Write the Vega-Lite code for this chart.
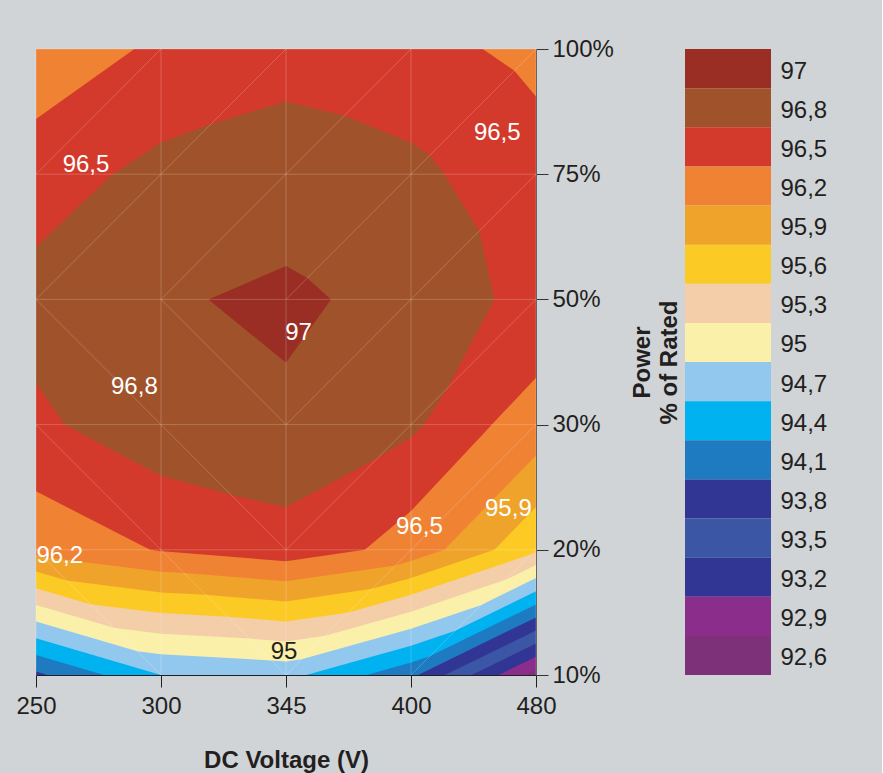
{
  "$schema": "https://vega.github.io/schema/vega-lite/v6.json",
  "background": "#d0d4d7",
  "padding": {"left": 15, "top": 37, "right": 55, "bottom": 5},
  "config": {"view": {"stroke": null}, "font": "Liberation Sans", "concat": {"spacing": 3}},
  "resolve": {"scale": {"color": "independent"}},
  "hconcat": [
    {
      "width": 500,
      "height": 626,
      "layer": [
        {
          "data": {"values": [
            {"lev": "92,6", "x": 0, "lo": 0, "hi": 5}, {"lev": "92,6", "x": 4, "lo": 0, "hi": 5},
            {"lev": "92,9", "x": 0, "lo": 0, "hi": 5}, {"lev": "92,9", "x": 3.914, "lo": 0, "hi": 5}, {"lev": "92,9", "x": 4, "lo": 0.042, "hi": 5},
            {"lev": "93,2", "x": 0, "lo": 0, "hi": 5}, {"lev": "93,2", "x": 3.7, "lo": 0, "hi": 5}, {"lev": "93,2", "x": 4, "lo": 0.146, "hi": 5},
            {"lev": "93,5", "x": 0, "lo": 0, "hi": 5}, {"lev": "93,5", "x": 3.486, "lo": 0, "hi": 5}, {"lev": "93,5", "x": 4, "lo": 0.251, "hi": 5},
            {"lev": "93,8", "x": 0, "lo": 0, "hi": 5}, {"lev": "93,8", "x": 3.271, "lo": 0, "hi": 5}, {"lev": "93,8", "x": 4, "lo": 0.355, "hi": 5},
            {"lev": "94,1", "x": 0, "lo": 0.027, "hi": 5}, {"lev": "94,1", "x": 0.091, "lo": 0, "hi": 5}, {"lev": "94,1", "x": 3.057, "lo": 0, "hi": 5}, {"lev": "94,1", "x": 4, "lo": 0.46, "hi": 5},
            {"lev": "94,4", "x": 0, "lo": 0.16, "hi": 5}, {"lev": "94,4", "x": 0.545, "lo": 0, "hi": 5}, {"lev": "94,4", "x": 2.645, "lo": 0, "hi": 5}, {"lev": "94,4", "x": 3, "lo": 0.099, "hi": 5}, {"lev": "94,4", "x": 3.15, "lo": 0.15, "hi": 5}, {"lev": "94,4", "x": 4, "lo": 0.564, "hi": 5},
            {"lev": "94,7", "x": 0, "lo": 0.293, "hi": 5}, {"lev": "94,7", "x": 1, "lo": 0, "hi": 5}, {"lev": "94,7", "x": 2.161, "lo": 0, "hi": 5}, {"lev": "94,7", "x": 3, "lo": 0.234, "hi": 5}, {"lev": "94,7", "x": 3.354, "lo": 0.354, "hi": 5}, {"lev": "94,7", "x": 4, "lo": 0.669, "hi": 5},
            {"lev": "95", "x": 0, "lo": 0.427, "hi": 5}, {"lev": "95", "x": 0.811, "lo": 0.189, "hi": 5}, {"lev": "95", "x": 1, "lo": 0.165, "hi": 5}, {"lev": "95", "x": 1.884, "lo": 0.116, "hi": 5}, {"lev": "95", "x": 2, "lo": 0.107, "hi": 5}, {"lev": "95", "x": 2.125, "lo": 0.125, "hi": 5}, {"lev": "95", "x": 3, "lo": 0.369, "hi": 5}, {"lev": "95", "x": 3.558, "lo": 0.558, "hi": 5}, {"lev": "95", "x": 4, "lo": 0.774, "hi": 5},
            {"lev": "95,3", "x": 0, "lo": 0.56, "hi": 5}, {"lev": "95,3", "x": 0.623, "lo": 0.377, "hi": 5}, {"lev": "95,3", "x": 1, "lo": 0.33, "hi": 5}, {"lev": "95,3", "x": 1.709, "lo": 0.291, "hi": 5}, {"lev": "95,3", "x": 2, "lo": 0.267, "hi": 5}, {"lev": "95,3", "x": 2.313, "lo": 0.313, "hi": 5}, {"lev": "95,3", "x": 3, "lo": 0.505, "hi": 5}, {"lev": "95,3", "x": 3.762, "lo": 0.762, "hi": 5}, {"lev": "95,3", "x": 4, "lo": 0.878, "hi": 5},
            {"lev": "95,6", "x": 0, "lo": 0.693, "hi": 5}, {"lev": "95,6", "x": 0.434, "lo": 0.566, "hi": 5}, {"lev": "95,6", "x": 1, "lo": 0.495, "hi": 5}, {"lev": "95,6", "x": 1.535, "lo": 0.465, "hi": 5}, {"lev": "95,6", "x": 2, "lo": 0.428, "hi": 5}, {"lev": "95,6", "x": 2.5, "lo": 0.5, "hi": 5}, {"lev": "95,6", "x": 3, "lo": 0.64, "hi": 5}, {"lev": "95,6", "x": 3.966, "lo": 0.966, "hi": 5}, {"lev": "95,6", "x": 4, "lo": 0.983, "hi": 5},
            {"lev": "95,9", "x": 0, "lo": 0.827, "hi": 5}, {"lev": "95,9", "x": 0.245, "lo": 0.755, "hi": 5}, {"lev": "95,9", "x": 1, "lo": 0.659, "hi": 5}, {"lev": "95,9", "x": 1.36, "lo": 0.64, "hi": 5}, {"lev": "95,9", "x": 2, "lo": 0.588, "hi": 5}, {"lev": "95,9", "x": 2.688, "lo": 0.688, "hi": 5}, {"lev": "95,9", "x": 3, "lo": 0.775, "hi": 5}, {"lev": "95,9", "x": 3.667, "lo": 1, "hi": 5}, {"lev": "95,9", "x": 4, "lo": 1.342, "hi": 5},
            {"lev": "96,2", "x": 0, "lo": 0.96, "hi": 5}, {"lev": "96,2", "x": 0.057, "lo": 0.943, "hi": 5}, {"lev": "96,2", "x": 1, "lo": 0.824, "hi": 5}, {"lev": "96,2", "x": 1.186, "lo": 0.814, "hi": 5}, {"lev": "96,2", "x": 2, "lo": 0.749, "hi": 5}, {"lev": "96,2", "x": 2.875, "lo": 0.875, "hi": 5}, {"lev": "96,2", "x": 3, "lo": 0.91, "hi": 5}, {"lev": "96,2", "x": 3.267, "lo": 1, "hi": 5}, {"lev": "96,2", "x": 4, "lo": 1.753, "hi": 5},
            {"lev": "96,5", "x": 0, "lo": 1.467, "hi": 4.44}, {"lev": "96,5", "x": 0.787, "lo": 1.064, "hi": 5}, {"lev": "96,5", "x": 0.913, "lo": 1, "hi": 5}, {"lev": "96,5", "x": 1, "lo": 0.989, "hi": 5}, {"lev": "96,5", "x": 1.012, "lo": 0.988, "hi": 5}, {"lev": "96,5", "x": 2, "lo": 0.909, "hi": 5}, {"lev": "96,5", "x": 2.63, "lo": 1, "hi": 5}, {"lev": "96,5", "x": 3, "lo": 1.31, "hi": 5}, {"lev": "96,5", "x": 3.573, "lo": 1.921, "hi": 5}, {"lev": "96,5", "x": 3.647, "lo": 2, "hi": 4.95}, {"lev": "96,5", "x": 3.827, "lo": 2.191, "hi": 4.827}, {"lev": "96,5", "x": 4, "lo": 2.375, "hi": 4.621},
            {"lev": "96,8", "x": 0, "lo": 2.333, "hi": 3.42}, {"lev": "96,8", "x": 0.227, "lo": 2, "hi": 3.635}, {"lev": "96,8", "x": 0.613, "lo": 1.796, "hi": 4}, {"lev": "96,8", "x": 1, "lo": 1.592, "hi": 4.253}, {"lev": "96,8", "x": 1.4, "lo": 1.483, "hi": 4.4}, {"lev": "96,8", "x": 1.56, "lo": 1.44, "hi": 4.448}, {"lev": "96,8", "x": 2, "lo": 1.339, "hi": 4.58}, {"lev": "96,8", "x": 2.467, "lo": 1.59, "hi": 4.467}, {"lev": "96,8", "x": 2.733, "lo": 1.733, "hi": 4.36}, {"lev": "96,8", "x": 3, "lo": 1.899, "hi": 4.253}, {"lev": "96,8", "x": 3.107, "lo": 2, "hi": 4.182}, {"lev": "96,8", "x": 3.147, "lo": 2.063, "hi": 4.155}, {"lev": "96,8", "x": 3.267, "lo": 2.252, "hi": 4}, {"lev": "96,8", "x": 3.293, "lo": 2.293, "hi": 3.957}, {"lev": "96,8", "x": 3.547, "lo": 2.773, "hi": 3.541}, {"lev": "96,8", "x": 3.667, "lo": 3, "hi": 3},
            {"lev": "97", "x": 1.379, "lo": 3, "hi": 3}, {"lev": "97", "x": 2, "lo": 2.495, "hi": 3.267}, {"lev": "97", "x": 2.17, "lo": 2.734, "hi": 3.17}, {"lev": "97", "x": 2.36, "lo": 3, "hi": 3}
          ]},
          "mark": {"type": "area"},
          "encoding": {
            "x": {"field": "x", "type": "quantitative", "scale": {"domain": [0, 4], "nice": false, "zero": false},
              "axis": {"values": [0, 1, 2, 3, 4], "labelExpr": "['250','300','345','400','480'][datum.value]", "title": "DC Voltage (V)", "grid": false, "domainColor": "#231f20", "tickColor": "#231f20", "tickSize": 12, "labelFontSize": 24, "labelColor": "#231f20", "labelPadding": 7, "labelFlush": false, "labelOverlap": false, "titleFontSize": 24, "titleFontWeight": "bold", "titleColor": "#231f20", "titlePadding": 30}},
            "y": {"field": "lo", "type": "quantitative", "stack": null, "scale": {"domain": [0, 5], "nice": false, "zero": false},
              "axis": {"orient": "right", "values": [0, 1, 2, 3, 4, 5], "labelExpr": "['10%','20%','30%','50%','75%','100%'][datum.value]", "title": ["Power", "% of Rated"], "titleAngle": 270, "grid": false, "domainColor": "#555555", "tickColor": "#333333", "tickSize": 12, "labelFontSize": 24, "labelColor": "#231f20", "labelPadding": 4, "labelFlush": false, "labelOverlap": false, "titleFontSize": 24, "titleFontWeight": "bold", "titleColor": "#231f20", "titlePadding": 14, "titleLineHeight": 27}},
            "y2": {"field": "hi"},
            "color": {"field": "lev", "type": "nominal", "legend": null,
              "scale": {"domain": ["92,6", "92,9", "93,2", "93,5", "93,8", "94,1", "94,4", "94,7", "95", "95,3", "95,6", "95,9", "96,2", "96,5", "96,8", "97"],
                "range": ["#7d3179", "#8b2d8b", "#313594", "#3b56a4", "#313594", "#1f7bc1", "#00b2ef", "#93c8ee", "#faf0aa", "#f3cea9", "#fcca24", "#f0a32b", "#f08233", "#d33a2c", "#a0532a", "#9a2e24"]}}
          }
        },
        {
          "data": {"values": [
            {"x": 0, "y": 0, "x2": 0, "y2": 5}, {"x": 1, "y": 0, "x2": 1, "y2": 5}, {"x": 2, "y": 0, "x2": 2, "y2": 5}, {"x": 3, "y": 0, "x2": 3, "y2": 5}, {"x": 4, "y": 0, "x2": 4, "y2": 5},
            {"x": 0, "y": 1, "x2": 4, "y2": 1}, {"x": 0, "y": 2, "x2": 4, "y2": 2}, {"x": 0, "y": 3, "x2": 4, "y2": 3}, {"x": 0, "y": 4, "x2": 4, "y2": 4}, {"x": 0, "y": 5, "x2": 4, "y2": 5},
            {"x": 0, "y": 1, "x2": 1, "y2": 0}, {"x": 0, "y": 2, "x2": 2, "y2": 0}, {"x": 0, "y": 3, "x2": 2, "y2": 1}, {"x": 1, "y": 3, "x2": 2, "y2": 2},
            {"x": 0, "y": 3, "x2": 2, "y2": 5}, {"x": 1, "y": 3, "x2": 2, "y2": 4}, {"x": 0, "y": 4, "x2": 1, "y2": 5},
            {"x": 2, "y": 0, "x2": 4, "y2": 2}, {"x": 2, "y": 1, "x2": 4, "y2": 3}, {"x": 2, "y": 2, "x2": 4, "y2": 4}, {"x": 2, "y": 3, "x2": 4, "y2": 5}, {"x": 3, "y": 0, "x2": 4, "y2": 1}, {"x": 2, "y": 4, "x2": 3, "y2": 5}
          ]},
          "mark": {"type": "rule", "color": "#ffffff", "opacity": 0.2, "strokeWidth": 1},
          "encoding": {
            "x": {"field": "x", "type": "quantitative"},
            "y": {"field": "y", "type": "quantitative"},
            "x2": {"field": "x2"},
            "y2": {"field": "y2"}
          }
        },
        {
          "data": {"values": [
            {"t": "96,5", "x": 0.4, "y": 4.07}, {"t": "96,5", "x": 3.69, "y": 4.33}, {"t": "97", "x": 2.1, "y": 2.73},
            {"t": "96,8", "x": 0.787, "y": 2.3}, {"t": "96,5", "x": 3.067, "y": 1.185}, {"t": "95,9", "x": 3.779, "y": 1.327},
            {"t": "96,2", "x": 0.19, "y": 0.95}, {"t": "95", "x": 1.984, "y": 0.187}
          ]},
          "mark": {"type": "text", "fontSize": 24, "font": "Liberation Sans", "baseline": "middle", "align": "center"},
          "encoding": {
            "x": {"field": "x", "type": "quantitative"},
            "y": {"field": "y", "type": "quantitative"},
            "text": {"field": "t"},
            "fill": {"condition": {"test": "datum.t === '95'", "value": "#231f20"}, "value": "#ffffff"}
          }
        }
      ]
    },
    {
      "width": 86,
      "height": 626,
      "data": {"values": [
        {"lev": "97"}, {"lev": "96,8"}, {"lev": "96,5"}, {"lev": "96,2"}, {"lev": "95,9"}, {"lev": "95,6"}, {"lev": "95,3"}, {"lev": "95"},
        {"lev": "94,7"}, {"lev": "94,4"}, {"lev": "94,1"}, {"lev": "93,8"}, {"lev": "93,5"}, {"lev": "93,2"}, {"lev": "92,9"}, {"lev": "92,6"}
      ]},
      "mark": {"type": "rect"},
      "encoding": {
        "y": {"field": "lev", "type": "ordinal",
          "sort": ["97", "96,8", "96,5", "96,2", "95,9", "95,6", "95,3", "95", "94,7", "94,4", "94,1", "93,8", "93,5", "93,2", "92,9", "92,6"],
          "scale": {"paddingInner": 0, "paddingOuter": 0},
          "axis": {"orient": "right", "title": null, "ticks": false, "domain": false, "labelFontSize": 24, "labelColor": "#231f20", "labelPadding": 9, "labelOffset": 3, "labelFont": "Liberation Sans"}},
        "color": {"field": "lev", "type": "nominal", "legend": null,
          "scale": {"domain": ["92,6", "92,9", "93,2", "93,5", "93,8", "94,1", "94,4", "94,7", "95", "95,3", "95,6", "95,9", "96,2", "96,5", "96,8", "97"],
            "range": ["#7d3179", "#8b2d8b", "#313594", "#3b56a4", "#313594", "#1f7bc1", "#00b2ef", "#93c8ee", "#faf0aa", "#f3cea9", "#fcca24", "#f0a32b", "#f08233", "#d33a2c", "#a0532a", "#9a2e24"]}}
      }
    }
  ]
}
